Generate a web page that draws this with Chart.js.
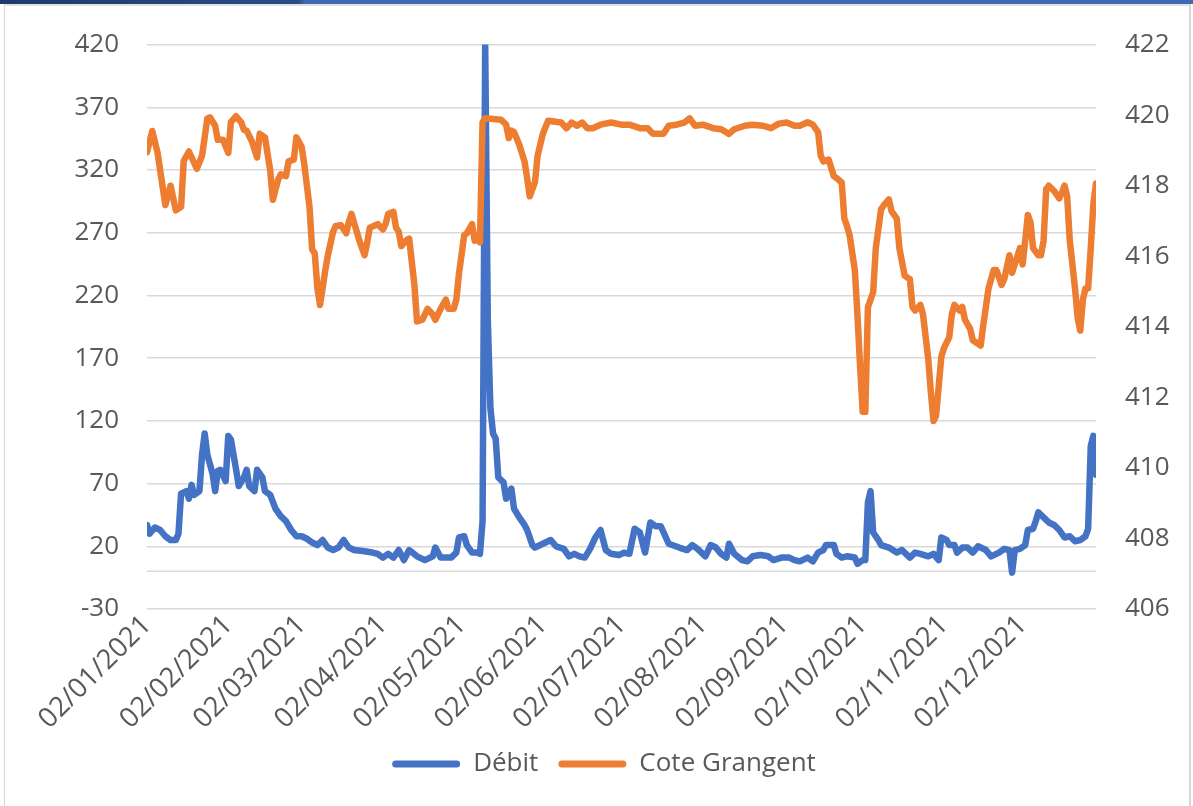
<!DOCTYPE html>
<html>
<head>
<meta charset="utf-8">
<script src="https://cdn.jsdelivr.net/npm/chart.js@4.4.0/dist/chart.umd.min.js"></script>
<style>
html,body{margin:0;padding:0;background:#fff;}
#wrap{position:relative;width:1193px;height:806px;overflow:hidden;background:#fff;}
#band{position:absolute;left:0;top:0;width:1193px;height:4px;background:linear-gradient(to right,#1f3a68 0%,#2a4c86 25%,#3f69b2 25.6%,#3f69b2 100%);z-index:2;}
#frame{position:absolute;left:4px;top:4px;width:1184px;height:820px;border-left:1px solid #d6d6d6;border-right:2px solid #d6d6d6;border-top:2px solid #e2e2e2;z-index:2;pointer-events:none;}
canvas{position:absolute;left:0;top:0;}
</style>
</head>
<body>
<div id="wrap">
<canvas id="c" width="1193" height="806"></canvas>
<div id="band"></div>
<div id="frame"></div>
</div>
<script>
// Day index counted from 02/01/2021
const monthTickDays = [0, 31, 59, 90, 120, 151, 181, 212, 243, 273, 304, 334];
const monthTickLabels = ['02/01/2021','02/02/2021','02/03/2021','02/04/2021','02/05/2021','02/06/2021','02/07/2021','02/08/2021','02/09/2021','02/10/2021','02/11/2021','02/12/2021'];
const leftTicks = [-30, 20, 70, 120, 170, 220, 270, 320, 370, 420];
const rightTicks = [406, 408, 410, 412, 414, 416, 418, 420, 422];

const debitDays = [0,1,3,5,7,9,11,12,13,15,16,17,18,20,21,22,23,25,26,27,28,30,31,32,34,35,37,38,39,41,42,44,45,47,49,51,53,55,57,59,61,63,65,67,69,71,73,75,77,79,83,86,88,90,92,94,96,98,100,103,106,109,110,112,116,118,119,121,122,124,126,127,128,129,130,131,132,133,134,136,137,139,140,142,144,145,147,148,151,154,156,159,161,163,165,167,169,171,173,175,177,180,182,184,186,188,190,192,194,196,199,203,206,208,210,213,215,217,219,221,222,224,227,229,231,234,237,239,242,245,247,249,252,254,256,258,259,262,263,265,267,270,271,273,274,275,276,277,279,280,283,286,288,291,293,295,298,300,302,303,305,306,308,309,311,313,315,317,320,322,325,327,329,330,331,333,335,336,338,339,340,342,344,346,348,350,352,354,356,358,359,360,361,362];
const debitValues = [37,30,35,33,28,25,25,30,62,64,58,69,61,64,93,110,93,78,64,80,81,72,108,105,81,68,75,81,68,64,81,75,64,61,50,44,40,33,28,28,26,23,21,25,19,17,19,25,19,17,16,15,14,11,14,11,17,9,17,12,9,12,19,11,11,15,27,28,21,15,15,14,40,420,200,130,110,106,75,71,58,66,50,43,37,33,21,19,22,25,20,18,12,14,12,11,18,27,33,17,14,13,15,14,34,31,15,39,36,36,22,19,17,21,18,12,21,19,14,11,22,14,9,8,12,13,12,9,11,11,9,8,11,8,15,17,21,21,14,11,12,11,6,9,9,55,64,31,25,21,19,15,17,11,15,14,12,14,9,27,25,21,21,15,19,19,15,20,17,12,15,18,17,-1,17,18,21,33,34,40,47,43,39,37,33,27,28,24,25,28,34,100,108,77];

const coteDays = [0,2,4,7,9,11,13,14,16,19,21,23,24,26,27,29,31,32,34,36,37,38,40,42,43,45,47,48,50,51,53,54,56,57,59,60,62,63,64,65,66,68,69,71,72,74,76,77,78,80,81,83,84,85,88,90,91,92,94,95,96,97,99,100,102,103,105,107,109,110,112,114,115,117,118,119,121,122,124,125,126,127,128,129,132,135,137,138,139,140,142,144,145,146,148,149,151,153,158,160,162,164,166,168,170,173,177,181,184,188,191,193,197,199,202,205,207,209,212,216,219,222,224,228,231,235,238,241,244,247,249,252,254,256,257,258,260,262,263,265,266,267,268,270,271,272,273,274,275,277,278,280,281,283,284,286,287,289,291,292,293,295,296,298,299,300,301,303,304,306,307,308,310,311,312,314,315,318,319,321,323,324,326,327,329,330,331,333,334,335,336,337,338,340,341,342,343,344,346,348,349,350,351,352,354,355,356,357,358,359,360,361,362];
const coteValues = [418.95,419.55,418.95,417.45,418.0,417.3,417.4,418.7,418.97,418.48,418.85,419.9,419.94,419.7,419.3,419.3,418.93,419.8,419.97,419.79,419.58,419.56,419.26,418.8,419.47,419.37,418.43,417.6,418.17,418.32,418.27,418.69,418.74,419.37,419.1,418.6,417.4,416.2,416.08,415.1,414.62,415.6,416.03,416.7,416.86,416.88,416.65,416.97,417.2,416.7,416.44,416.03,416.39,416.81,416.91,416.76,416.91,417.2,417.26,416.81,416.7,416.29,416.46,416.5,415.19,414.15,414.2,414.51,414.35,414.2,414.51,414.77,414.51,414.51,414.77,415.5,416.6,416.65,416.91,416.44,416.55,416.39,419.8,419.91,419.89,419.87,419.73,419.35,419.56,419.52,419.16,418.69,418.22,417.7,418.11,418.85,419.47,419.84,419.79,419.63,419.79,419.7,419.79,419.63,419.63,419.73,419.79,419.73,419.73,419.63,419.63,419.47,419.47,419.7,419.73,419.79,419.91,419.7,419.73,419.63,419.6,419.47,419.6,419.7,419.73,419.7,419.63,419.76,419.79,419.7,419.7,419.8,419.73,419.52,418.85,418.69,418.74,418.27,418.22,418.09,417.07,416.86,416.6,415.61,414.35,412.89,411.59,411.59,414.56,414.98,416.23,417.33,417.44,417.61,417.28,417.07,416.23,415.45,415.35,414.56,414.46,414.62,414.35,413.1,412.16,411.33,411.48,413.15,413.4,413.7,414.35,414.62,414.46,414.56,414.2,413.94,413.62,413.47,414.04,415.09,415.61,415.61,415.19,415.35,416.03,415.53,415.77,416.23,415.77,416.44,417.17,416.97,416.23,416.03,416.03,416.44,417.9,418.0,417.85,417.64,417.8,418.0,417.7,416.44,415.09,414.25,413.89,414.77,415.09,415.09,416.23,417.49,418.06];

const BLUE = '#4472C4';
const ORANGE = '#ED7D31';
const TXT = '#595959';
const GRID = '#d9d9d9';
const FONT = {family: '"Open Sans", "DejaVu Sans", sans-serif', size: 26};
const XFONT = {family: '"Open Sans", "DejaVu Sans", sans-serif', size: 27.5};

const zeroLine = {
  id: 'zeroLine',
  beforeDatasetsDraw(chart) {
    const {ctx, chartArea: a} = chart;
    const py = chart.scales.y.getPixelForValue(0);
    ctx.save();
    ctx.strokeStyle = GRID;
    ctx.lineWidth = 1.5;
    ctx.beginPath();
    ctx.moveTo(a.left, py);
    ctx.lineTo(a.right, py);
    ctx.stroke();
    ctx.restore();
  }
};

new Chart(document.getElementById('c'), {
  type: 'line',
  data: {
    datasets: [
      {
        label: 'Débit',
        data: debitDays.map((d, i) => ({x: d, y: debitValues[i]})),
        borderColor: BLUE, backgroundColor: BLUE,
        borderWidth: 6.5, pointRadius: 0, tension: 0,
        borderJoinStyle: 'round', borderCapStyle: 'round',
        yAxisID: 'y', order: 2
      },
      {
        label: 'Cote Grangent',
        data: coteDays.map((d, i) => ({x: d, y: coteValues[i]})),
        borderColor: ORANGE, backgroundColor: ORANGE,
        borderWidth: 6.5, pointRadius: 0, tension: 0,
        borderJoinStyle: 'round', borderCapStyle: 'round',
        yAxisID: 'y1', order: 1
      }
    ]
  },
  options: {
    responsive: false,
    animation: false,
    events: [],
    layout: {padding: {left: 38, right: 23, top: 41, bottom: 19}},
    plugins: {
      tooltip: {enabled: false},
      legend: {
        position: 'bottom',
        labels: {
          font: FONT, color: TXT,
          boxWidth: 68, boxHeight: 7, padding: 20,
          useBorderRadius: true, borderRadius: 3.5,
          generateLabels: (chart) => chart.data.datasets.map((ds, i) => ({
            text: ds.label, fillStyle: ds.borderColor, strokeStyle: ds.borderColor,
            lineWidth: 0, hidden: false, datasetIndex: i, borderRadius: 3.5, fontColor: TXT
          }))
        }
      }
    },
    scales: {
      x: {
        type: 'linear', min: 0, max: 362,
        afterBuildTicks: (s) => { s.ticks = monthTickDays.map(v => ({value: v})); },
        afterFit: (s) => { s.height = 122; },
        ticks: {
          autoSkip: false, minRotation: 45, maxRotation: 45, padding: 0,
          font: XFONT, color: TXT,
          callback: (v, i) => monthTickLabels[i]
        },
        grid: {display: false, drawTicks: false},
        border: {display: false}
      },
      y: {
        position: 'left', min: -30, max: 420,
        afterBuildTicks: (s) => { s.ticks = leftTicks.map(v => ({value: v})); },
        afterFit: (s) => { s.width = 109; },
        ticks: {padding: 28, font: FONT, color: TXT},
        grid: {color: GRID, lineWidth: 1.5, drawTicks: false},
        border: {display: false}
      },
      y1: {
        position: 'right', min: 406, max: 422,
        afterBuildTicks: (s) => { s.ticks = rightTicks.map(v => ({value: v})); },
        afterFit: (s) => { s.width = 74; },
        ticks: {padding: 29, font: FONT, color: TXT},
        grid: {drawOnChartArea: false, drawTicks: false},
        border: {display: false}
      }
    }
  },
  plugins: [zeroLine]
});
</script>
</body>
</html>
